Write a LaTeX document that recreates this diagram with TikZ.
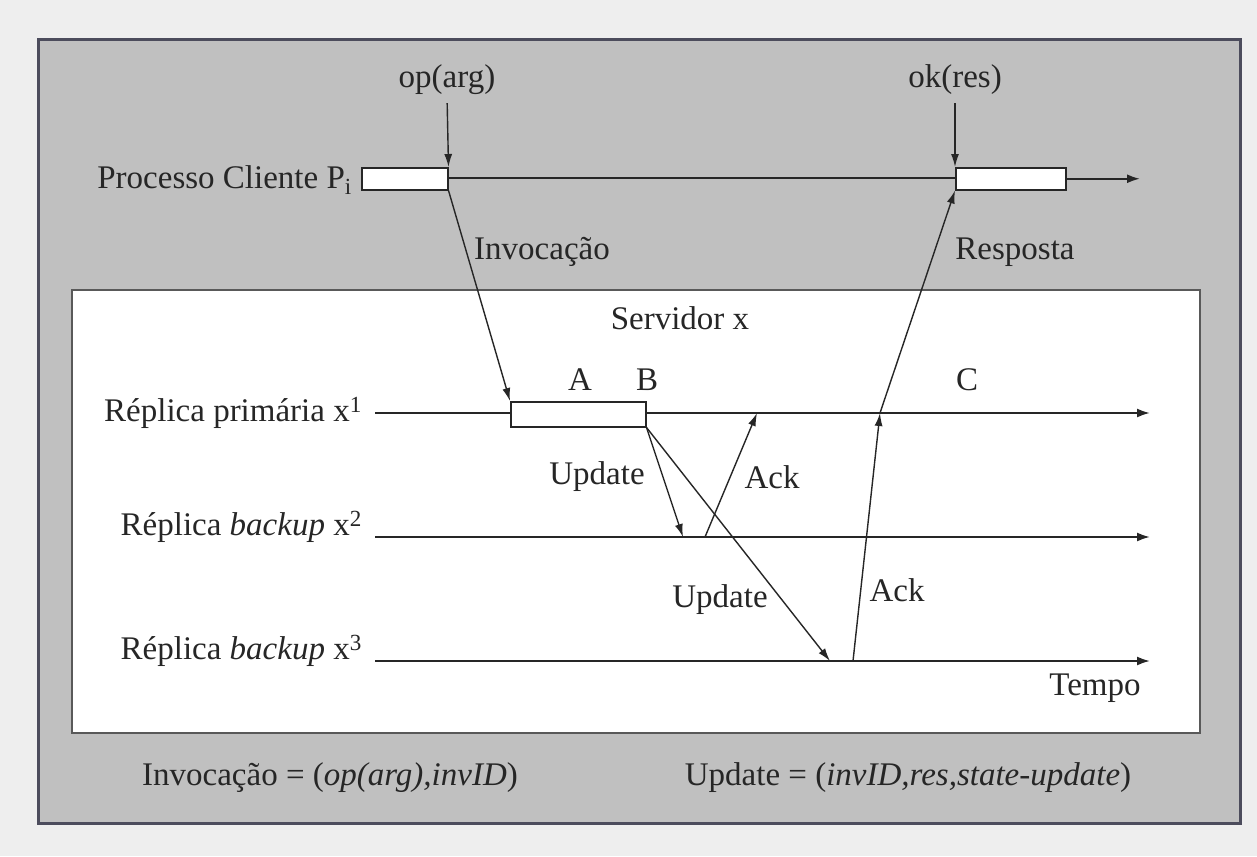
\documentclass[tikz,border=0pt]{standalone}
\usepackage{fontspec}
\setmainfont{Liberation Serif}
\usetikzlibrary{arrows.meta}
\definecolor{pagebg}{HTML}{EEEEEE}
\definecolor{outerfill}{HTML}{C0C0C0}
\definecolor{outerline}{HTML}{4C4C5C}
\definecolor{ink}{HTML}{262626}
\begin{document}
\begin{tikzpicture}[x=1pt,y=-1pt,
  font=\fontsize{33}{38}\selectfont,
  ln/.style={line width=2pt, draw=ink},
  arr/.style={ln, -{Latex[length=13pt,width=9pt]}},
  msg/.style={line width=1.4pt, draw=ink, -{Latex[length=13pt,width=8pt]}},
  lbl/.style={inner sep=0pt, text=ink},
  bar/.style={draw=ink, line width=1.5pt, fill=white, inner sep=0pt, anchor=north west}]
\useasboundingbox (0,0) rectangle (1257,856);
\fill[pagebg] (0,0) rectangle (1257,856);
\draw[line width=3pt, draw=outerline, fill=outerfill] (38,40) rectangle (1240,823);
\draw[line width=2pt, draw=gray!70!black, fill=white] (72,290) rectangle (1200,733);

% coordinates
\coordinate (cs) at (447,178);
\coordinate (ce) at (1140,178);
\coordinate (l1s) at (375,413); \coordinate (l1e) at (1150,413);
\coordinate (l2s) at (375,537); \coordinate (l2e) at (1150,537);
\coordinate (l3s) at (375,661); \coordinate (l3e) at (1150,661);
\coordinate (u1) at (683,537);
\coordinate (a1s) at (705,537);
\coordinate (a1e) at (757,413);
\coordinate (u2) at (830,661);
\coordinate (a2s) at (853,661);
\coordinate (a2e) at (880,413);

% time lines
\draw[ln] (cs) -- (955,178);
\draw[arr] (l1s) -- (l1e);
\draw[arr] (l2s) -- (l2e);
\draw[arr] (l3s) -- (l3e);

% bars
\node[bar, minimum width=86pt, minimum height=22pt] (c1) at (361,167) {};
\node[bar, minimum width=110pt, minimum height=22pt] (c2) at (955,167) {};
\node[bar, minimum width=135pt, minimum height=25pt] (p1) at (510,401) {};
\draw[arr] (c2.east) -- (c2.east -| ce);

% labels
\node[lbl, anchor=east] (pc) at (352,180) {Processo Cliente P\textsubscript{i}};
\node[lbl, anchor=east] (r1) at (362,413) {Réplica primária x\textsuperscript{1}};
\node[lbl, anchor=east] (r2) at (362,527) {Réplica \textit{backup} x\textsuperscript{2}};
\node[lbl, anchor=east] (r3) at (362,651) {Réplica \textit{backup} x\textsuperscript{3}};
\node[lbl] (op) at (447,80) {op(arg)};
\node[lbl] (ok) at (955,80) {ok(res)};
\node[lbl] (inv) at (542,252) {Invocação};
\node[lbl] (resp) at (1015,252) {Resposta};
\node[lbl] (serv) at (680,318) {Servidor x};
\node[lbl] (la) at (580,380) {A};
\node[lbl] (lb) at (647,380) {B};
\node[lbl] (lc) at (967,380) {C};
\node[lbl] (up1) at (597,477) {Update};
\node[lbl] (ack1) at (772,477) {Ack};
\node[lbl] (up2) at (720,600) {Update};
\node[lbl] (ack2) at (897,590) {Ack};
\node[lbl] (tempo) at (1095,688) {Tempo};
\node[lbl] (finv) at (330,778) {Invocação = (\textit{op(arg),invID})};
\node[lbl] (fupd) at (908,778) {Update = (\textit{invID,res,state-update})};

% messages
\draw[msg, shorten <=8pt] (op.south) -- (c1.north east);
\draw[msg, shorten <=8pt] (ok.south) -- (c2.north west);
\draw[msg] (c1.south east) -- (p1.north west);
\draw[msg] (p1.south east) -- (u1);
\draw[msg] (a1s) -- (a1e);
\draw[msg] (p1.south east) -- (u2);
\draw[msg] (a2s) -- (a2e);
\draw[msg] (a2e) -- (c2.south west);
\end{tikzpicture}
\end{document}
